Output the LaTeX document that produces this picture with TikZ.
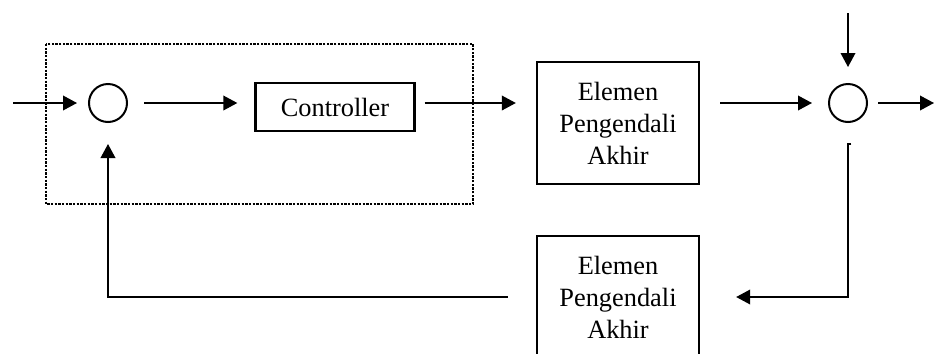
\documentclass[tikz,border=0pt]{standalone}
\usepackage{fontspec}
\setmainfont{Liberation Serif}
\usetikzlibrary{arrows.meta}

\tikzset{
  block/.style={draw,line width=0.7mm,align=center,inner sep=0pt,
    font=\fontsize{22.5}{27.2}\selectfont},
  bigblock/.style={block,minimum width=48.6mm,minimum height=36.6mm},
  sumnode/.style={draw,circle,line width=0.6mm,minimum size=11.4mm,inner sep=0pt},
  link/.style={line width=0.45mm},
  ctrlbox/.style={line width=0.8mm,dash pattern=on 0.7mm off 0.4mm}
}

\begin{document}
\begin{tikzpicture}[x=0.3mm,y=-0.3mm,>={Triangle[length=4.2mm,width=4.4mm]}]
\clip (0,0) rectangle (935,353);
% blocks
\node[sumnode] (sumA) at (108,103) {};
\node[block,minimum width=47.7mm,minimum height=14.4mm] (ctrl) at (335,107) {Controller};
\node[bigblock] (fceA) at (618,123) {Elemen\\Pengendali\\Akhir};
\node[sumnode] (sumB) at (848,103) {};
\node[bigblock] (fceB) at (618,297) {Elemen\\Pengendali\\Akhir};
\coordinate (setpt) at (13,103);
\coordinate (outpt) at (934,103);
\coordinate (dist) at (848,13);
\coordinate (corner) at (848,297);
% dotted controller frame
\draw[ctrlbox] (46,44) rectangle (473,204);
% forward path
\draw[link,->,shorten >=3.3mm] (setpt) -- (sumA);
\draw[link,->,shorten <=4.8mm,shorten >=5.1mm] (sumA) -- (sumA -| ctrl.west);
\draw[link,->,shorten <=2.7mm,shorten >=6mm] (ctrl.east |- sumA) -- (sumA -| fceA.west);
\draw[link,->,shorten <=6mm,shorten >=4.8mm] (fceA.east |- sumB) -- (sumB);
\draw[link,->,shorten <=3mm] (sumB) -- (outpt);
\draw[link,->,shorten >=4.8mm] (dist) -- (sumB);
% feedback path
\draw[link,->,shorten >=10.8mm] ([xshift=1mm,yshift=-6.3mm]sumB.south) -- ([yshift=-6.3mm]sumB.south)
  -- (corner) -- (fceB.east);
\draw[link,->,shorten <=8.4mm,shorten >=6.3mm] (fceB.west) -- (fceB.west -| sumA) -- (sumA);
\end{tikzpicture}
\end{document}
